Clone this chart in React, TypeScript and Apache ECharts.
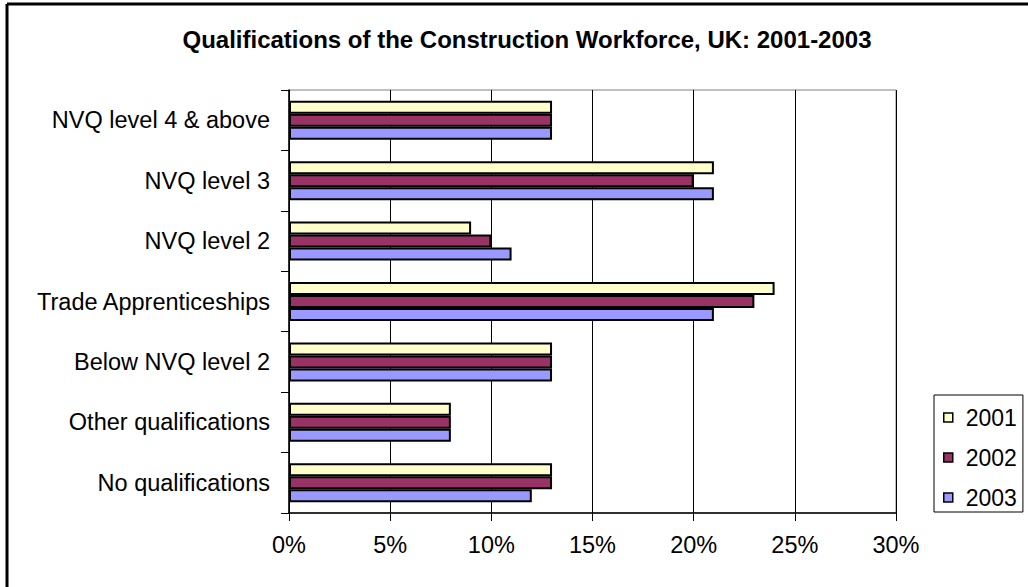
import React, { useEffect, useRef } from "react";
import * as echarts from "echarts";

const categories = [
  "NVQ level 4 & above",
  "NVQ level 3",
  "NVQ level 2",
  "Trade Apprenticeships",
  "Below NVQ level 2",
  "Other qualifications",
  "No qualifications",
];
const years = ["2001", "2002", "2003"];
const values2001 = [13, 21, 9, 24, 13, 8, 13];
const values2002 = [13, 20, 10, 23, 13, 8, 13];
const values2003 = [13, 21, 11, 21, 13, 8, 12];
const colors = ["#FFFFCC", "#993366", "#9999FF"];
const title = "Qualifications of the Construction Workforce, UK: 2001-2003";

const FONT = "'Liberation Sans', Arial, Helvetica, sans-serif";

export default function App() {
  const ref = useRef<HTMLDivElement>(null);
  useEffect(() => {
    if (!ref.current) return;
    const chart = echarts.init(ref.current, undefined, { renderer: "svg" });
    const seriesData = [values2001, values2002, values2003];
    chart.setOption({
      animation: false,
      backgroundColor: "#ffffff",
      textStyle: { fontFamily: FONT, color: "#000" },
      title: {
        text: title,
        left: 522,
        top: 22,
        textAlign: "center",
        textStyle: { fontFamily: FONT, fontSize: 24, fontWeight: "bold", color: "#000" },
      },
      legend: {
        orient: "vertical",
        left: 934,
        top: 395,
        width: 88,
        data: years,
        backgroundColor: "#fff",
        borderColor: "#000",
        borderWidth: 1,
        padding: [11, 6, 3, 9],
        itemGap: 17,
        itemWidth: 9,
        itemHeight: 9,
        icon: "rect",
        selectedMode: false,
        textStyle: { fontFamily: FONT, fontSize: 23, color: "#000", padding: [0, 0, 0, 8] },
        itemStyle: { borderColor: "#000", borderWidth: 1.5 },
      },
      grid: {
        left: 289,
        right: 132,
        top: 90,
        bottom: 74,
        show: true,
        borderColor: "#808080",
        borderWidth: 1,
        containLabel: false,
      },
      xAxis: {
        type: "value",
        min: 0,
        max: 30,
        interval: 5,
        axisLine: { show: true, lineStyle: { color: "#000", width: 1.5 } },
        axisTick: { show: true, length: 8, lineStyle: { color: "#000" } },
        axisLabel: {
          formatter: "{value}%",
          fontFamily: FONT,
          fontSize: 23.5,
          color: "#000",
          margin: 20,
        },
        splitLine: { show: true, lineStyle: { color: "#000", width: 1 } },
      },
      yAxis: {
        type: "category",
        data: categories,
        inverse: true,
        axisLine: { show: true, lineStyle: { color: "#000", width: 1.5 } },
        axisTick: { show: true, length: 8, lineStyle: { color: "#000" } },
        axisLabel: {
          fontFamily: FONT,
          fontSize: 23.5,
          color: "#000",
          margin: 19,
        },
        splitLine: { show: false },
      },
      series: years.map((y, i) => ({
        name: y,
        type: "bar",
        data: seriesData[i],
        barWidth: 13,
        barGap: "0%",
        itemStyle: { color: colors[i], borderColor: "#000", borderWidth: 2 },
      })),
      graphic: [
        {
          type: "line",
          shape: { x1: 7, y1: 4, x2: 1028, y2: 4 },
          style: { stroke: "#000", lineWidth: 3 },
        },
        {
          type: "line",
          shape: { x1: 7, y1: 4, x2: 7, y2: 587 },
          style: { stroke: "#000", lineWidth: 3 },
        },
      ],
    });
    return () => chart.dispose();
  }, []);
  return (
    <div
      ref={ref}
      style={{ position: "fixed", left: 0, top: 0, width: 1028, height: 587 }}
    />
  );
}
